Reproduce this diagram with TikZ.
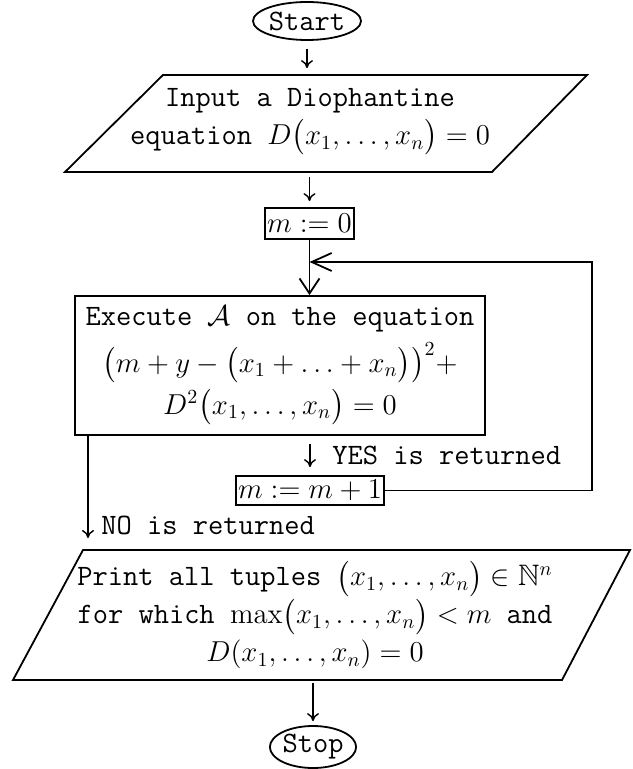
\documentclass[tikz,border=0pt]{standalone}
\usepackage{amsmath}
\usepackage{amssymb}
\usepackage{tikz}
\usetikzlibrary{arrows.meta,shapes.geometric}
\tikzset{
  fcFont/.style={font={\fontsize{14.8}{18}\ttfamily}},
  fcTerm/.style={ellipse, draw, line width=0.9pt, inner sep=0pt, fcFont},
  fcBox/.style={rectangle, draw, line width=0.9pt, inner sep=1pt,
                align=center, fcFont},
  fcIo/.style={rectangle, inner sep=0pt, align=center, fcFont},
  fcIoShape/.style={line width=0.9pt, line join=miter},
  fcArrow/.style={-{To[length=4pt,width=6pt]}, line width=0.7pt},
  fcLoop/.style={-{Straight Barb[length=10pt,width=9pt]}, line width=0.9pt},
  fcEnter/.style={-{Straight Barb[length=7.5pt,width=10pt]}, line width=0.9pt},
  fcLabel/.style={anchor=west, inner sep=0pt, fcFont}
}

\begin{document}
\begin{tikzpicture}[x=0.5pt,y=-0.5pt]
  \useasboundingbox (0,0) rectangle (632,769);

  \node[fcTerm, minimum width=54pt, minimum height=19pt] (start) at (307,21) {Start};

  \draw[fcIoShape] (65,172) -- (163,75) -- (587,75) -- (492,172) -- cycle;
  \node[fcIo, minimum height=48.5pt] (input) at (310,122)
    {Input a Diophantine\\[1pt]equation $D\bigl(x_1,\ldots,x_n\bigr)=0$};

  \node[fcBox, minimum width=43.5pt, minimum height=15.5pt] (m0) at (309.5,223.5) {$m:=0$};

  \node[fcBox, minimum width=205pt, minimum height=69.5pt] (exec) at (280,365.5)
    {Execute $\mathcal{A}$ on the equation\\[4pt]
     $\bigl(m+y-\bigl(x_1+\ldots+x_n\bigr)\bigr)^2+$\\[3pt]
     $D^2\bigl(x_1,\ldots,x_n\bigr)=0$};

  \node[fcBox, minimum width=70pt, minimum height=14.5pt] (m1) at (310,490.5) {$m:=m+1$};
  \node[fcLabel] (yes) at (332,455) {YES is returned};

  \coordinate (noEnd) at (88,538);
  \coordinate (loopCorner) at (592,262);
  \node[fcLabel] (no) at (101,525) {NO is returned};

  \draw[fcIoShape] (13,680) -- (83,550) -- (630,550) -- (562,680) -- cycle;
  \node[fcIo, minimum height=65pt] (print) at (315,615)
    {Print all tuples $\bigl(x_1,\ldots,x_n\bigr)\in\mathbb{N}^n$\\[1pt]
     for which $\max\bigl(x_1,\ldots,x_n\bigr)<m$ and\\[1pt]
     $D(x_1,\ldots,x_n)=0$};

  \node[fcTerm, minimum width=41pt, minimum height=21pt] (stop) at (313,747) {Stop};

  % connectors
  \draw[fcArrow, shorten <=4pt, shorten >=2.5pt] (start.south) -- (start.south |- input.north);
  \draw[fcArrow, shorten <=3pt, shorten >=3pt] (m0.north |- input.south) -- (m0.north);
  \draw[fcEnter] (m0.south) -- (m0.south |- exec.north);
  \draw[fcArrow, shorten <=4pt, shorten >=4pt] (m1.north |- exec.south) -- (m1.north);
  \draw[fcLoop] (m1.east) -| (loopCorner) -- (m0.south |- loopCorner);
  \draw[fcArrow] (noEnd |- exec.south) -- (noEnd);
  \draw[fcArrow, shorten <=1.5pt, shorten >=2pt] (stop.north |- print.south) -- (stop.north);
\end{tikzpicture}
\end{document}
